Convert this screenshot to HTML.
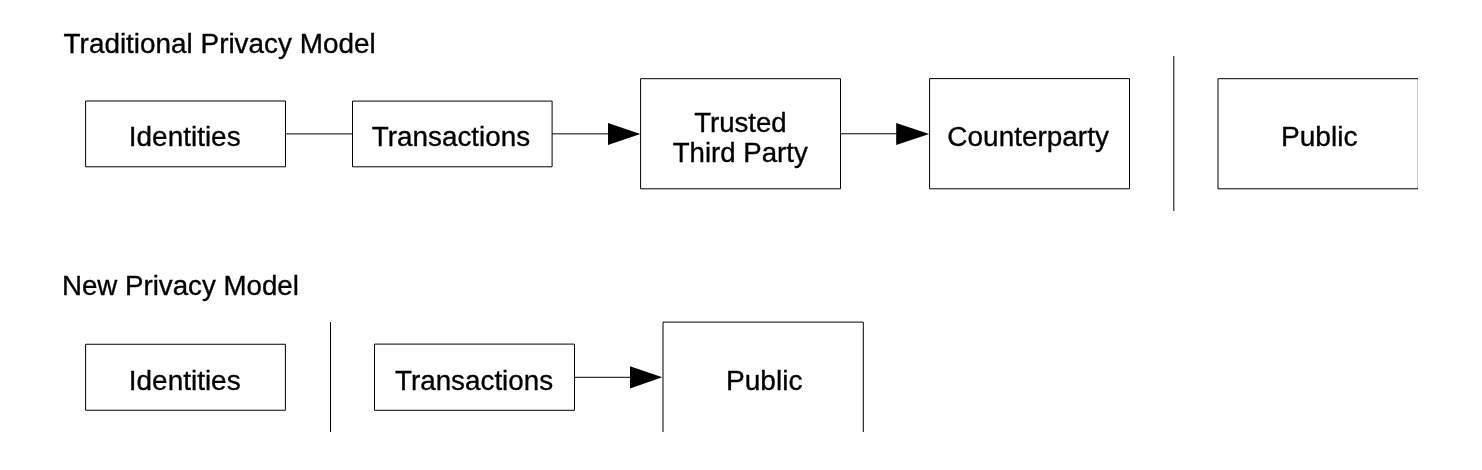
<!DOCTYPE html>
<html><head><meta charset="utf-8">
<style>
html,body{margin:0;padding:0;background:#fff;width:1482px;height:470px;overflow:hidden}
svg{position:absolute;left:0;top:0;will-change:transform}
text{font-family:"Liberation Sans",sans-serif;font-size:28px;fill:#000;stroke:#000;stroke-width:0.35px}
</style></head><body>
<svg width="1482" height="470" viewBox="0 0 1482 470">
<defs><clipPath id="c1"><rect x="0" y="0" width="1418" height="432"/></clipPath></defs>
<g fill="none" stroke="#000" stroke-width="1.0" clip-path="url(#c1)">
<path d="M85.6 101 H285.5 V166.8 H85.6 Z"/>
<path d="M285.5 133.9 H352.5"/>
<path d="M352.5 101.1 H552.1 V166.8 H352.5 Z"/>
<path d="M552.1 133.85 H610"/>
<path d="M640.6 78.7 H840.5 V188.8 H640.6 Z"/>
<path d="M840.5 133.75 H898"/>
<path d="M929.6 78.6 H1129.5 V188.8 H929.6 Z"/>
<path d="M1173.8 56 V211"/>
<path d="M1218 78.7 H1418.3 V188.8 H1218 Z"/>
<path d="M85.6 344.25 H285.4 V410.25 H85.6 Z"/>
<path d="M330.5 322 V432"/>
<path d="M374.5 344.1 H574.5 V410.3 H374.5 Z"/>
<path d="M574.5 377.3 H632"/>
<path d="M663 322.1 H863.3 V440 H663 Z"/>
</g>
<g fill="#000">
<polygon points="640.3,134 608,123 608,145.1"/>
<polygon points="929.2,134 896.2,123 896.2,145.1"/>
<polygon points="662.3,377.3 630,366.3 630,388.4"/>
</g>
<text transform="translate(63.618 52.8) scale(0.9964 1.0)">Traditional Privacy Model</text>
<text transform="translate(128.835 145.9) scale(0.99778 1.0)">Identities</text>
<text transform="translate(371.869 146.2) scale(0.99422 1.0)">Transactions</text>
<text transform="translate(694.233 132) scale(0.98411 1.0)">Trusted</text>
<text transform="translate(672.678 162) scale(0.9867 1.0)">Third Party</text>
<text transform="translate(947.371 146) scale(0.99835 1.0)">Counterparty</text>
<text transform="translate(1280.989 145.8) scale(1.00463 1.0)">Public</text>
<text transform="translate(61.88 294.9) scale(0.98932 1.0)">New Privacy Model</text>
<text transform="translate(128.835 389.8) scale(0.99778 1.0)">Identities</text>
<text transform="translate(394.997 390.1) scale(0.99344 1.0)">Transactions</text>
<text transform="translate(725.989 389.8) scale(1.00463 1.0)">Public</text>
</svg>
</body></html>
